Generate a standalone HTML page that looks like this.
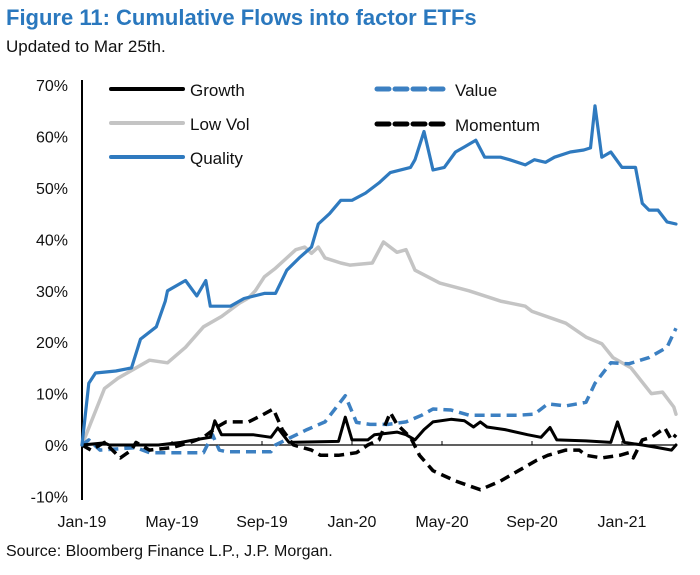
<!DOCTYPE html>
<html><head><meta charset="utf-8"><style>
body{margin:0;background:#fff;width:700px;height:570px;overflow:hidden;font-family:"Liberation Sans",Arial,sans-serif}
</style></head><body>
<svg id="chart" width="700" height="570" font-family="Liberation Sans, Arial, sans-serif">
<text x="6" y="25" font-size="22" font-weight="bold" fill="#2a78be">Figure 11: Cumulative Flows into factor ETFs</text>
<text x="6" y="52" font-size="17" fill="#111">Updated to Mar 25th.</text>
<text x="6" y="556" font-size="16" fill="#111">Source: Bloomberg Finance L.P., J.P. Morgan.</text>
<g id="axes"></g><g id="series"></g>
<g>
<line x1="111" y1="89" x2="183" y2="89" stroke="#000" stroke-width="4" stroke-linecap="round"/>
<text x="190" y="96" font-size="17" fill="#111">Growth</text>
<line x1="111" y1="123" x2="183" y2="123" stroke="#c4c4c4" stroke-width="4" stroke-linecap="round"/>
<text x="190" y="130" font-size="17" fill="#111">Low Vol</text>
<line x1="111" y1="157" x2="183" y2="157" stroke="#2f7abf" stroke-width="4" stroke-linecap="round"/>
<text x="190" y="164" font-size="17" fill="#111">Quality</text>
<line x1="377" y1="89" x2="447" y2="89" stroke="#3c80c2" stroke-width="5" stroke-dasharray="12,6" stroke-linecap="round"/>
<text x="455" y="96" font-size="17" fill="#111">Value</text>
<line x1="377" y1="124" x2="447" y2="124" stroke="#000" stroke-width="5" stroke-dasharray="12,6" stroke-linecap="round"/>
<text x="455" y="131" font-size="17" fill="#111">Momentum</text>
</g>
</svg>
<script>
const yTicks=[70,60,50,40,30,20,10,0,-10];
const xLabels=["Jan-19","May-19","Sep-19","Jan-20","May-20","Sep-20","Jan-21"];
const xLabelMonths=[0,4,8,12,16,20,24];
const qualityM=[0,0.3,0.6,1.5,2.2,2.6,3.3,3.7,3.8,4.6,5.1,5.5,5.7,6.6,7.2,8.1,8.6,9.1,9.7,10.2,10.5,11,11.5,12,12.6,13.2,13.7,14.6,14.8,15.2,15.6,16.1,16.6,17,17.5,17.9,18.6,19,19.7,20.1,20.6,21,21.7,22.3,22.6,22.8,23.1,23.5,24,24.6,24.9,25.2,25.6,26,26.4];
const qualityV=[0,12,14,14.4,15,20.6,23,28,30,32,29,32,27,27,28.5,29.5,29.5,34,36.6,38.5,43,45,47.6,47.6,49,51,53,54,55.5,61,53.5,54,57,58,59.3,56,56,55.5,54.5,55.5,55,56,57,57.4,57.8,66,56,57,54,54,47,45.7,45.7,43.4,43];
const lowVolM=[0,1,1.6,3,3.8,4.6,5.4,6.2,7,7.4,7.7,8.1,8.6,9,9.5,9.9,10.2,10.5,10.8,11.5,11.9,12.9,13.4,14,14.4,14.8,15.9,17.2,18.6,19.7,20,21.5,22.4,23.1,23.6,24.4,25.3,25.8,26.3,26.4];
const lowVolV=[0,11,13,16.5,16,19,23,25,27.6,28.6,30,32.7,34.4,36,38,38.5,37.3,38.5,36.4,35.4,35,35.4,39.5,37.5,38,34,31.5,30,28,27,26,23.7,21,19.7,17,15,10,10.3,7.4,6];
const valueM=[0,0.3,0.8,2.4,3,5.4,5.8,6.1,6.4,8.4,8.6,9.2,10,10.8,11.7,12.2,12.8,13.6,14.4,15.1,15.6,16.4,17.2,19.4,20.1,20.7,21.5,22.4,22.8,23.5,24.3,25.2,26,26.4];
const valueV=[0,1,-1,-0.5,-1.5,-1.5,2,-1,-1.3,-1.3,0,1.3,3,4.5,9.6,4.4,4,4,4.5,5.8,7,6.8,5.8,5.8,6,8,7.6,8.3,12,16,15.8,17,19,22.7];
const growthM=[0,1,1.2,3.4,4.4,5,5.7,5.9,6.2,7.6,8.4,8.7,9.2,11.4,11.7,12,12.7,13,14,14.4,14.8,15.2,15.6,16.4,17,17.4,17.7,18,18.8,19.8,20.4,20.8,21.1,22.4,23.5,23.8,24.1,24.9,25.6,26.2,26.4];
const growthV=[0,0.4,0,0,0.5,1,1.5,4.7,2,2,1.5,3.3,0.5,0.7,5.4,1,1,2,2.5,2,1,3,4.5,5,4.7,3.5,4.5,3.5,3,2,1.5,3.4,1,0.8,0.5,4.5,0.5,0,-0.5,-1,0];
const momentumM=[0,0.4,1,1.7,2.2,2.4,3,4,4.8,5.4,6,6.4,7.4,8,8.5,8.9,9.4,10.2,10.6,11.4,12.2,12.7,13.2,13.7,14,14.6,15,15.6,16.6,17.7,18.6,19.4,20.2,20.7,21.5,22.1,22.4,23.1,23.9,24.3,24.5,24.9,25.3,25.9,26.2,26.4];
const momentumV=[0,-1,0.5,-2.5,-1,0.5,-1,-0.5,0.5,1.5,3.5,4.5,4.5,5.8,7,3,0,-1,-2,-2,-1.5,0,1,6.3,4,1.5,-2,-5,-7,-8.7,-7,-5,-3,-2,-1,-1,-2,-2.5,-2,-1.5,-2.5,1,1.5,3.3,1,2];

const X=m=>82+m*22.5;
const Y=v=>445-v*5.14;
const NS="http://www.w3.org/2000/svg";
const axes=document.getElementById('axes'), ser=document.getElementById('series');
function mk(tag,attrs,parent){const e=document.createElementNS(NS,tag);for(const k in attrs)e.setAttribute(k,attrs[k]);parent.appendChild(e);return e;}
const ya=mk('line',{x1:82,y1:80,x2:82,y2:500,stroke:'#000','stroke-width':2},axes);


const za=mk('line',{x1:82,y1:Y(0),x2:X(26.4),y2:Y(0),stroke:'#000','stroke-width':1.2},axes);


yTicks.forEach(v=>{
  const t=mk('text',{x:68,y:Y(v)+6,'font-size':16,'text-anchor':'end',fill:'#111'},axes);
  t.textContent=v+'%';
  
  
});
xLabels.forEach((l,i)=>{
  const tk=mk('line',{x1:X(xLabelMonths[i]),y1:Y(0),x2:X(xLabelMonths[i]),y2:Y(0)-4,stroke:'#000','stroke-width':1},axes);
  
  
  const t=mk('text',{x:X(xLabelMonths[i]),y:527,'font-size':16,'text-anchor':'middle',fill:'#111'},axes);
  t.textContent=l;
  
  
});
function line(ms,vs,color,w,dash,name){
  const d=ms.map((m,i)=>(i?'L':'M')+X(m).toFixed(1)+','+Y(vs[i]).toFixed(1)).join('');
  const p=mk('path',{d:d,fill:'none',stroke:color,'stroke-width':w,'stroke-linejoin':'round','stroke-linecap':dash?'butt':'round'},ser);
  if(dash)p.setAttribute('stroke-dasharray',dash);
  
  
}
line(lowVolM,lowVolV,'#c4c4c4',3.5,null,'low-vol-line');
line(valueM,valueV,'#3c80c2',3.5,'10,6','value-line');
line(momentumM,momentumV,'#000',3.5,'10,6','momentum-line');
line(growthM,growthV,'#000',3,null,'growth-line');
line(qualityM,qualityV,'#2f7abf',3.2,null,'quality-line');
</script>
</body></html>
